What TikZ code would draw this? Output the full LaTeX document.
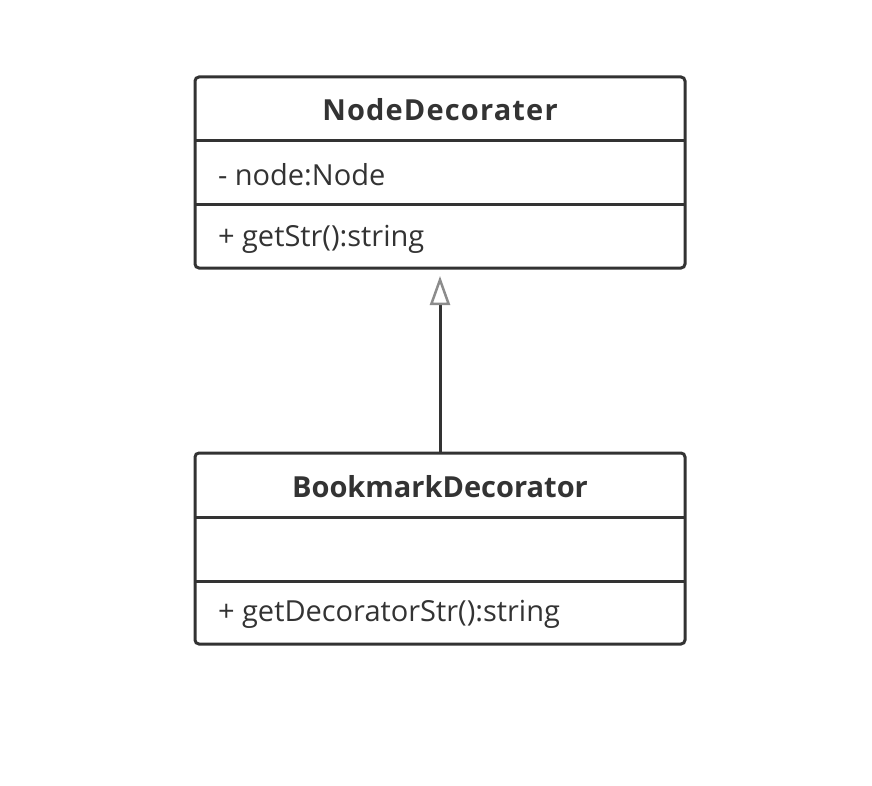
\documentclass[tikz,border=0pt]{standalone}
\usepackage{fontspec}
\setmainfont{Open Sans}
\usetikzlibrary{positioning,arrows.meta}
\definecolor{umlline}{HTML}{333333}
\definecolor{umltip}{HTML}{8C8C8C}

\begin{document}
\begin{tikzpicture}[x=1pt, y=-1pt, line width=3pt, draw=umlline, text=umlline]
    \tikzstyle{every node}=[inner sep=0pt, outer sep=0pt, font=\fontsize{29}{34}\selectfont];
    \tikzstyle{classbox}=[draw, rounded corners=4pt, minimum width=490pt, minimum height=191pt];
    \tikzstyle{member}=[anchor=west];
    \useasboundingbox (0,0) rectangle (872,786);

    % NodeDecorater
    \node (nd) [classbox] at (440,172.5) {};
    \draw (195,141) -- (685,141);
    \draw (195,205) -- (685,205);
    \node (ndName) at (440,110) {\addfontfeature{LetterSpace=4}\bfseries NodeDecorater};
    \node (ndAttr) [member] at (218,175) {- node:Node};
    \node (ndOp) [member] at (218,239) {+ getStr():string};

    % BookmarkDecorator
    \node (bd) [classbox] at (440,548.5) {};
    \draw (195,517) -- (685,517);
    \draw (195,581) -- (685,581);
    \node (bdName) at (440,487) {\bfseries BookmarkDecorator};
    \node (bdOp) [member] at (218,614) {+ getDecoratorStr():string};

    \draw [-{Triangle[open, length=29pt, width=20pt, color=umltip, line width=2.5pt]}, shorten >=8pt]
        (bd.north) -- (nd.south);
\end{tikzpicture}
\end{document}
